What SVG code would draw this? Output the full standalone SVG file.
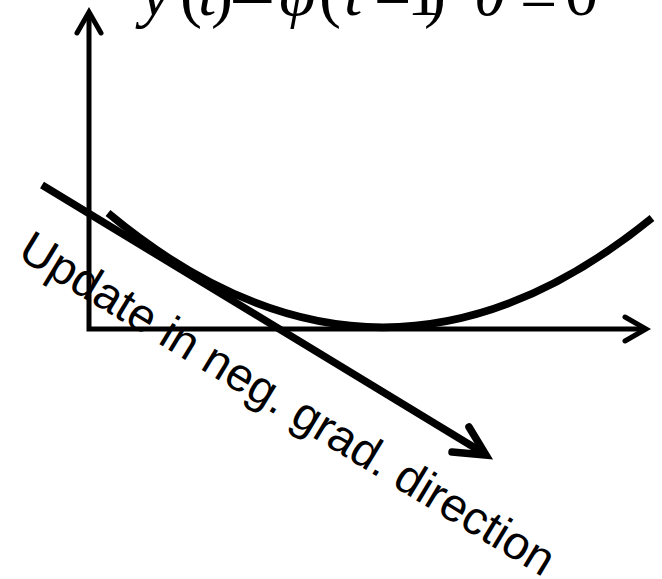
<svg xmlns="http://www.w3.org/2000/svg" width="662" height="579" viewBox="0 0 662 579">
<style>
.ax{fill:none;stroke:#000;stroke-width:5;stroke-linecap:butt}
.ah{fill:none;stroke:#000;stroke-width:5;stroke-linecap:round;stroke-linejoin:miter}
.thick{fill:none;stroke:#000;stroke-width:7.5}
.thickh{fill:none;stroke:#000;stroke-width:7.5;stroke-linecap:round;stroke-linejoin:miter}
.eq{font-family:"Liberation Serif","Times New Roman",serif;font-size:66px;fill:#000}
.lbl{font-family:"Liberation Sans",Arial,sans-serif;font-size:47px;fill:#000}
</style>
<rect width="662" height="579" fill="#fff"/>
<g id="equation">
<text class="eq" y="15"><tspan x="141" font-style="italic">y</tspan><tspan x="180">(</tspan><tspan x="198" font-style="italic">t</tspan><tspan x="211">)</tspan><tspan x="279" font-style="italic">φ</tspan><tspan x="319">(</tspan><tspan x="344" font-style="italic">t</tspan><tspan x="374" y="23">−</tspan><tspan x="407" y="15">1</tspan><tspan x="424">)</tspan><tspan x="474" font-style="italic">θ</tspan><tspan x="520" y="20">=</tspan><tspan x="565" y="15">0</tspan></text>
<text class="eq" transform="translate(229,23) scale(1.25,1)">−</text>
</g>
<g id="axes">
<polyline class="ax" points="89,14 89,331 646,331" transform="translate(0,-2)"/>
<polyline class="ah" points="77,33 89,12 101,33"/>
<polyline class="ah" points="625,317 646,329 625,341"/>
</g>
<g id="cost-curve">
<path class="thick" d="M108,213 Q380,439 652,218"/>
</g>
<g id="connectors">
<line class="thick" x1="42" y1="185" x2="485" y2="454"/>
<polyline class="thickh" points="452,452 486,455 469,427"/>
</g>
<g id="label">
<text class="lbl" transform="translate(16,257) rotate(31.3)">Update in neg. grad. direction</text>
</g>
</svg>
